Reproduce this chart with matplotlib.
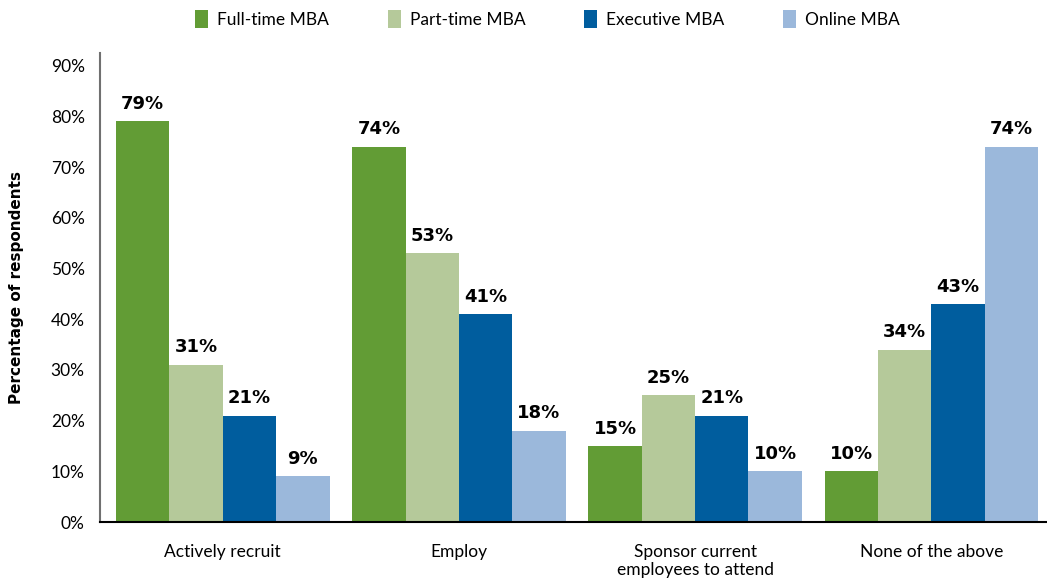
import matplotlib.pyplot as plt
import numpy as np
from matplotlib.patches import Patch

plt.rcParams['font.family'] = ['Lato', 'DejaVu Sans']

CATEGORIES = ['Actively recruit', 'Employ', 'Sponsor current\nemployees to attend', 'None of the above']
SERIES = ['Full-time MBA', 'Part-time MBA', 'Executive MBA', 'Online MBA']
FULL_TIME = [79, 74, 15, 10]
PART_TIME = [31, 53, 25, 34]
EXECUTIVE = [21, 41, 21, 43]
ONLINE = [9, 18, 10, 74]
Y_TICKS = [0, 10, 20, 30, 40, 50, 60, 70, 80, 90]

COLORS = ['#629C35', '#B5C99A', '#005D9E', '#9BB8DB']

fig = plt.figure(figsize=(10.47, 5.83), dpi=100)
ax = fig.add_axes([0.0955, 0.1046, 0.9045, 0.8045])

x = np.arange(len(CATEGORIES))
bar_w = 0.226
all_series = [FULL_TIME, PART_TIME, EXECUTIVE, ONLINE]
for i, (name, vals) in enumerate(zip(SERIES, all_series)):
    pos = x + (i - 1.5) * bar_w
    bars = ax.bar(pos, vals, width=bar_w, color=COLORS[i], label=name, linewidth=0)
    for b, v in zip(bars, vals):
        ax.annotate(f"{v}%", (b.get_x() + b.get_width() / 2, v),
                    xytext=(0, 6), textcoords='offset points',
                    ha='center', va='bottom', fontsize=13, fontweight='bold',
                    family='DejaVu Sans')

ax.set_xlim(-0.52, 3.49)
ax.set_ylim(0, 92.5)
ax.set_yticks(Y_TICKS)
ax.set_yticklabels([f"{t}%" for t in Y_TICKS])
ax.set_xticks(x)
ax.set_xticklabels(CATEGORIES, fontsize=12.5, linespacing=1.15)
ax.tick_params(axis='x', length=0, pad=16)
ax.tick_params(axis='y', length=0, pad=11, labelsize=12.5)

for side in ['top', 'right']:
    ax.spines[side].set_visible(False)
ax.spines['left'].set_color('#707070')
ax.spines['left'].set_linewidth(1.5)
ax.spines['bottom'].set_color('black')
ax.spines['bottom'].set_linewidth(1.5)

ax.set_ylabel('Percentage of respondents', fontsize=11, fontweight='bold',
              family='DejaVu Sans')
ax.yaxis.set_label_coords(-0.08, 0.5)

handles = [Patch(facecolor=c, edgecolor='none', label=s) for c, s in zip(COLORS, SERIES)]
fig.legend(handles=handles, loc='center', bbox_to_anchor=(0.523, 0.967), ncol=4,
           frameon=False, fontsize=12.5, handlelength=0.75, handleheight=1.2,
           handletextpad=0.5, columnspacing=3.4)

plt.savefig('out.png', dpi=100)
plt.close()
